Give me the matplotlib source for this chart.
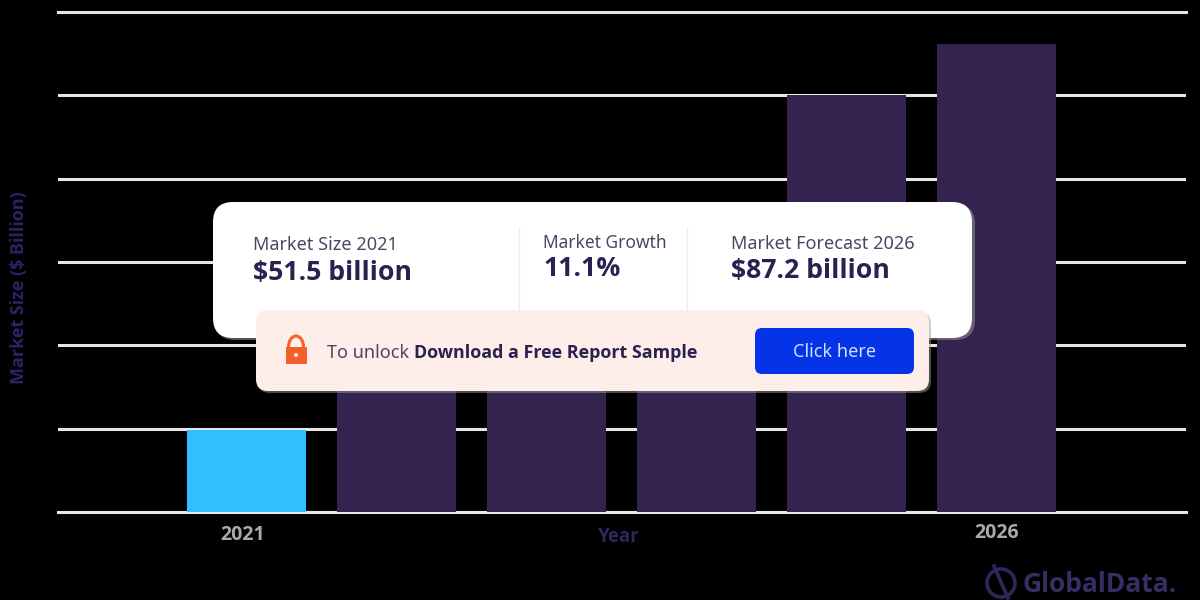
import matplotlib
matplotlib.use("Agg")
import matplotlib.pyplot as plt
from matplotlib import font_manager as fm
from matplotlib.patches import FancyBboxPatch, Rectangle, Circle, Arc
from matplotlib.transforms import ScaledTranslation

years = ["2021", "2022", "2023", "2024", "2025", "2026"]
tick_labels = ["2021", "", "", "", "", "2026"]
# Heights in gridline intervals; the vertical axis carries no printed numbers.
# 2022-2024 tops are hidden behind the cards, so they are estimates.
bar_values = [0.985, 1.9, 2.7, 3.5, 5.0, 5.62]
bar_colors = ["#33bfff", "#35234f", "#35234f", "#35234f", "#35234f", "#35234f"]
grid_levels = [0, 1, 2, 3, 4, 5, 6]

card_titles = ["Market Size 2021", "Market Growth", "Market Forecast 2026"]
card_values = ["$51.5 billion", "11.1%", "$87.2 billion"]

# pick the first installed family that really has a bold face
bold_family = "DejaVu Sans"
for cand in ["Open Sans", "Roboto", "Lato", "Inter", "Liberation Sans"]:
    if any(f.name == cand and (f.weight == "bold" or f.weight == 700) for f in fm.fontManager.ttflist):
        bold_family = cand
        break

plt.rcParams["font.family"] = ["Noto Sans", "DejaVu Sans"]
W, H = 1200, 600
fig = plt.figure(figsize=(12, 6), dpi=100, facecolor="black")

ax = fig.add_axes([58 / W, (H - 512) / H, 1128 / W, 500 / H], facecolor="black")
x = list(range(len(years)))
ax.bar(x, bar_values, width=0.795, color=bar_colors, zorder=3)
ax.set_xlim((58 - 246.3) / 150, (1186 - 246.3) / 150)
ax.set_ylim(0, 6)
ax.set_yticks(grid_levels)
ax.set_yticklabels([])
ax.set_xticks(x)
ax.set_xticklabels(tick_labels, fontsize=14, fontweight="bold", family=bold_family, color="#a9a9a9")
ax.tick_params(length=0, pad=9)
ax.grid(axis="y", color="#e6e6e6", lw=2.2, zorder=1)
ax.grid(axis="x", visible=False)
ax.set_axisbelow(True)
for s in ax.spines.values():
    s.set_visible(False)
for s in ["bottom", "top"]:
    ax.spines[s].set_visible(True)
    ax.spines[s].set_color("#e6e6e6")
    ax.spines[s].set_linewidth(2.2)
ax.spines["bottom"].set_zorder(2)
labels = ax.get_xticklabels()
labels[0].set_transform(labels[0].get_transform() + ScaledTranslation(-4 / 100, 0, fig.dpi_scale_trans))
labels[5].set_transform(labels[5].get_transform() + ScaledTranslation(0, 2 / 100, fig.dpi_scale_trans))

# Overlay in pixel coordinates for the promotional cards
ov = fig.add_axes([0, 0, 1, 1], facecolor="none")
ov.set_xlim(0, W)
ov.set_ylim(H, 0)
ov.axis("off")

def rbox(x0, y0, x1, y1, r, **kw):
    p = FancyBboxPatch((x0 + r, y0 + r), x1 - x0 - 2 * r, y1 - y0 - 2 * r,
                       boxstyle=f"round,pad={r},rounding_size={r}", **kw)
    ov.add_patch(p)

navy = "#2a2150"
gray = "#4b4763"
ov.text(619, 537, "Year", fontsize=13.5, fontweight="bold", family=bold_family, color="#33245e", ha="center", va="center")
ov.text(19, 288, "Market Size ($ Billion)", fontsize=13, fontweight="bold", family=bold_family, color="#2f2163",
        rotation=90, ha="center", va="center")

rbox(215, 204, 975, 340, 20, fc="#8a8a8a", ec="none", alpha=0.6, zorder=1)
rbox(213, 202, 972, 338, 20, fc="white", ec="none", zorder=2)
ov.plot([518.5, 518.5], [228, 310], color="#eeeeee", lw=1, zorder=3)
ov.plot([686.5, 686.5], [228, 310], color="#eeeeee", lw=1, zorder=3)

title_pos = [(253, 245), (543, 243), (731, 244)]
value_pos = [(253, 272.5), (543, 269.5), (731, 271)]
title_sizes = [13, 12.5, 13]
for (tx, ty), t, fs in zip(title_pos, card_titles, title_sizes):
    ov.text(tx, ty, t, fontsize=fs, color=gray, va="center", zorder=4)
for (tx, ty), t in zip(value_pos, card_values):
    ov.text(tx, ty, t, fontsize=19.2, fontweight="bold", family=bold_family, color=navy, va="center", zorder=4)

rbox(258, 312, 931, 393, 12, fc="#999999", ec="none", alpha=0.5, zorder=4)
rbox(256, 310, 929, 391, 12, fc="#fdeee9", ec="none", zorder=5)

# padlock icon
orange = "#f4602a"
ov.add_patch(Arc((296, 347), 15, 22, theta1=180, theta2=360, color=orange, lw=2.2, zorder=6))
ov.add_patch(Rectangle((285.5, 347), 21, 17, fc=orange, ec="none", zorder=6))
ov.add_patch(Circle((296, 355), 2, fc="#fdeee9", ec="none", zorder=7))

ov.text(327, 352.5, "To unlock", fontsize=13, color=gray, va="center", zorder=6)
ov.text(414, 352.5, "Download a Free Report Sample", fontsize=12.9, fontweight="bold", family=bold_family,
        color=navy, va="center", zorder=6)
rbox(755, 328, 914, 374, 7, fc="#0433e8", ec="none", zorder=6)
ov.text(835, 352, "Click here", fontsize=13, color="#cfe0ff", ha="center", va="center", zorder=7)

# logo
logo = "#33245e"
ov.add_patch(Circle((1001, 583), 14, fc="none", ec=logo, lw=2.6, zorder=2))
ov.plot([994, 1008], [566, 598], color=logo, lw=2.6, zorder=2)
ov.text(1023, 584, "GlobalData.", fontsize=19, fontweight="bold", family=bold_family, color="#3a2d63", va="center", zorder=2)

fig.savefig("out.png", dpi=100, facecolor="black")
